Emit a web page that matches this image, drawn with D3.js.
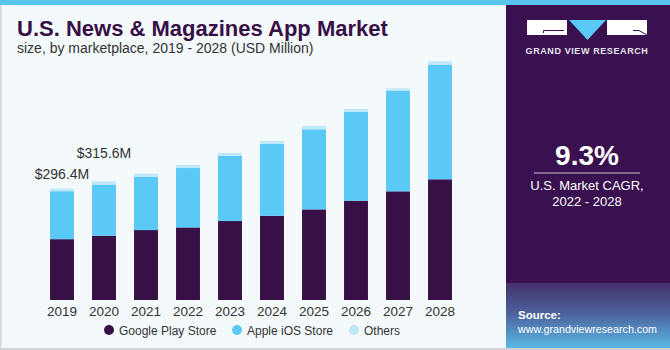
<!DOCTYPE html>
<html>
<head>
<meta charset="utf-8">
<script src="https://cdn.jsdelivr.net/npm/d3@7"></script>
<style>
  body { margin: 0; background: #fff; }
  svg { display: block; font-family: "Liberation Sans", Arial, sans-serif; }
</style>
</head>
<body>
<div id="container"></div>
<script>
// values in USD million
let years = ["2019", "2020", "2021", "2022", "2023", "2024", "2025", "2026", "2027", "2028"];
let google = [161.8, 171.0, 186, 193, 210, 224, 241, 264, 289, 321];
let apple = [127.6, 136.0, 142, 158, 173, 191, 213, 236, 267, 305];
let others = [7.0, 8.6, 8, 8, 8, 8, 9, 8, 7, 9];
let seriesNames = ["Google Play Store", "Apple iOS Store", "Others"];
let totalLabels = [{year: "2019", text: "$296.4M", dy: -10}, {year: "2020", text: "$315.6M", dy: -23}];

let W = 670, H = 350;
let colors = ["#371047", "#5bc9f5", "#bfe8f8"];

let svg = d3.select("#container")
  .append("svg")
    .attr("width", W)
    .attr("height", H);

// background
svg.append("rect").attr("width", W).attr("height", H).attr("fill", "#f4f9fc");
svg.append("rect").attr("x", 0).attr("y", 0).attr("width", 1.5).attr("height", H).attr("fill", "#d4d8dc");
svg.append("rect").attr("x", 0).attr("y", H - 2).attr("width", W).attr("height", 2).attr("fill", "#cfd3d6");
svg.append("rect").attr("x", 0).attr("y", 0).attr("width", W).attr("height", 5).attr("fill", "#5bc4ee");

// title
svg.append("text")
  .attr("x", 17).attr("y", 36)
  .attr("font-size", 22).attr("font-weight", "bold")
  .attr("fill", "#361047")
  .text("U.S. News & Magazines App Market");
svg.append("text")
  .attr("x", 17).attr("y", 53)
  .attr("font-size", 14)
  .attr("fill", "#333")
  .text("size, by marketplace, 2019 - 2028 (USD Million)");

// right panel
let defs = svg.append("defs");
let grad = defs.append("linearGradient").attr("id", "srcGrad")
  .attr("x1", 0).attr("y1", 0).attr("x2", 0).attr("y2", 1);
grad.append("stop").attr("offset", "0%").attr("stop-color", "#44306c");
grad.append("stop").attr("offset", "45%").attr("stop-color", "#4d5f9a");
grad.append("stop").attr("offset", "100%").attr("stop-color", "#5ab8e6");

svg.append("rect").attr("x", 506).attr("y", 5).attr("width", W - 506).attr("height", H - 7).attr("fill", "#3a1150");
svg.append("rect").attr("x", 506).attr("y", 283).attr("width", W - 506).attr("height", H - 2 - 283).attr("fill", "url(#srcGrad)");

// logo
let logo = svg.append("g").attr("class", "logo");
logo.append("rect").attr("x", 527).attr("y", 20).attr("width", 40).attr("height", 15).attr("fill", "#ffffff");
logo.append("path").attr("d", "M543.5,33 V30.5 H564").attr("fill", "none").attr("stroke", "#3a1150").attr("stroke-width", 1);
logo.append("path").attr("d", "M569,20 L606,20 L587.5,40 Z").attr("fill", "#5bc9f5");
logo.append("rect").attr("x", 607).attr("y", 20).attr("width", 40).attr("height", 15).attr("fill", "#ffffff");
logo.append("path").attr("d", "M633,30.5 H639 L647,35").attr("fill", "none").attr("stroke", "#3a1150").attr("stroke-width", 1);
logo.append("text")
  .attr("x", 587).attr("y", 54)
  .attr("text-anchor", "middle")
  .attr("font-size", 9).attr("font-weight", "bold")
  .attr("letter-spacing", 0.6)
  .attr("fill", "#e8e4ee")
  .text("GRAND VIEW RESEARCH");

// CAGR
svg.append("text")
  .attr("x", 587).attr("y", 165)
  .attr("text-anchor", "middle")
  .attr("font-size", 28).attr("font-weight", "bold")
  .attr("fill", "#fff")
  .text("9.3%");
svg.append("line")
  .attr("x1", 534).attr("x2", 640).attr("y1", 173).attr("y2", 173)
  .attr("stroke", "#c9c0d3").attr("stroke-width", 1);
svg.append("text")
  .attr("x", 587).attr("y", 190)
  .attr("text-anchor", "middle")
  .attr("font-size", 13)
  .attr("fill", "#fff")
  .text("U.S. Market CAGR,");
svg.append("text")
  .attr("x", 587).attr("y", 206)
  .attr("text-anchor", "middle")
  .attr("font-size", 13)
  .attr("fill", "#fff")
  .text("2022 - 2028");

// source
svg.append("text")
  .attr("x", 518).attr("y", 319)
  .attr("font-size", 11.5).attr("font-weight", "bold")
  .attr("fill", "#fff")
  .text("Source:");
svg.append("text")
  .attr("x", 518).attr("y", 333)
  .attr("font-size", 11)
  .attr("textLength", 139)
  .attr("lengthAdjust", "spacingAndGlyphs")
  .attr("fill", "#fff")
  .text("www.grandviewresearch.com");

// chart
let xScale = d3.scaleBand()
  .domain(years)
  .range([41, 461])
  .paddingInner(0.43)
  .paddingOuter(0.215);

let yScale = d3.scaleLinear()
  .domain([0, 650])
  .range([300, 55.6]);

let table = years.map((y, i) => ({year: y, google: google[i], apple: apple[i], others: others[i]}));
let stack = d3.stack().keys(["google", "apple", "others"])(table);

let graph = svg.append("g");
graph.selectAll("g.series")
  .data(stack)
  .enter().append("g")
    .attr("class", "series")
    .attr("fill", (d, i) => colors[i])
  .selectAll("rect")
  .data(d => d)
  .enter().append("rect")
    .attr("x", d => xScale(d.data.year))
    .attr("y", d => yScale(d[1]))
    .attr("width", xScale.bandwidth())
    .attr("height", d => yScale(d[0]) - yScale(d[1]));

let xAxis = d3.axisBottom(xScale).tickSize(0).tickPadding(6);
let xAxisGroup = graph.append("g").attr("class", "xaxis")
  .attr("transform", "translate(0,300)")
  .call(xAxis);
xAxisGroup.select(".domain").remove();
xAxisGroup.selectAll("text")
  .attr("font-size", 13.5)
  .attr("font-family", "Liberation Sans, Arial, sans-serif")
  .attr("fill", "#333");

// total labels
let totals = {};
table.forEach(d => totals[d.year] = d.google + d.apple + d.others);
graph.selectAll("text.total")
  .data(totalLabels)
  .enter().append("text")
    .attr("class", "total")
    .attr("x", d => xScale(d.year) + xScale.bandwidth() / 2)
    .attr("y", d => yScale(totals[d.year]) + d.dy)
    .attr("text-anchor", "middle")
    .attr("font-size", 14)
    .attr("fill", "#333")
    .text(d => d.text);

// legend
let legendX = [109, 237, 354];
let legend = svg.selectAll("g.legend")
  .data(seriesNames)
  .enter().append("g")
    .attr("class", "legend")
    .attr("transform", (d, i) => "translate(" + legendX[i] + ",330)");
legend.append("circle").attr("r", 5).attr("fill", (d, i) => colors[i]);
legend.append("text")
  .attr("x", 10).attr("y", 4.5)
  .attr("font-size", 12)
  .attr("fill", "#333")
  .text(d => d);
</script>
</body>
</html>
